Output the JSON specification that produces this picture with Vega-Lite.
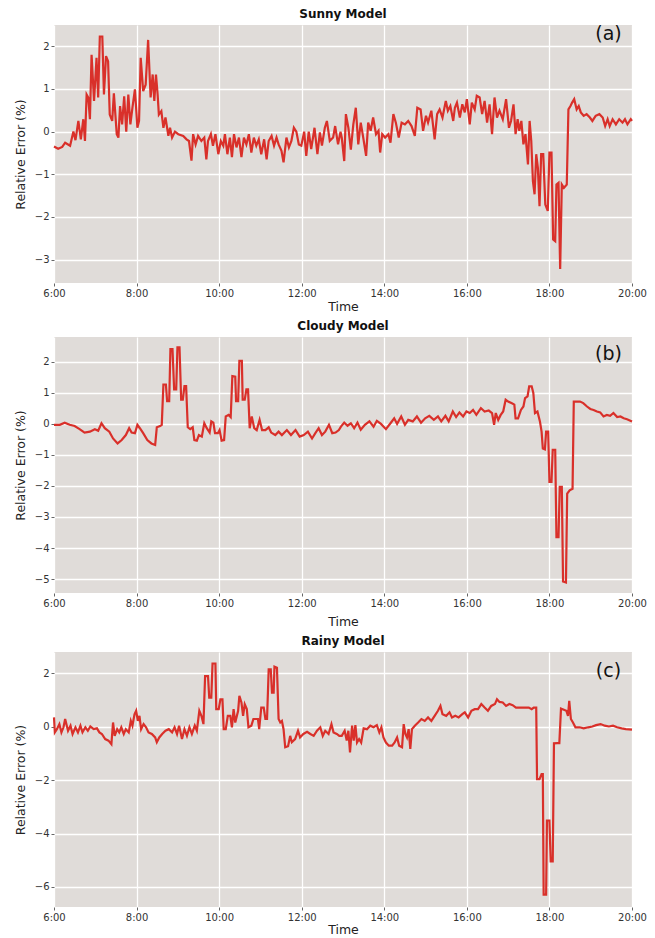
{
  "$schema": "https://vega.github.io/schema/vega-lite/v6.json",
  "padding": {"left": 14, "top": 7, "right": 5, "bottom": 0},
  "spacing": 7,
  "config": {
    "font": "DejaVu Sans",
    "view": {"stroke": null, "fill": "#e0dcd9"},
    "axis": {"domain": false, "gridColor": "#ffffff", "gridWidth": 1.3, "tickColor": "#666666", "tickSize": 3, "labelFontSize": 10, "labelColor": "#333333", "titleFontSize": 12.5, "titleFontWeight": "normal", "titleColor": "#222222", "labelPadding": 2, "labelOverlap": false, "labelFlush": false},
    "axisY": {"titlePadding": 7},
    "title": {"fontSize": 12, "fontWeight": "bold", "color": "#111111", "offset": 4},
    "line": {"color": "#d9302a", "strokeWidth": 2.2},
    "text": {"fontSize": 19, "color": "#111111"}
  },
  "datasets": {
    "a": [
      {"h":6.0,"v":-0.35},{"h":6.1,"v":-0.4},{"h":6.2,"v":-0.36},{"h":6.27,"v":-0.26},{"h":6.39,"v":-0.33},{"h":6.47,"v":0.0},{"h":6.52,"v":-0.2},{"h":6.59,"v":0.25},{"h":6.65,"v":-0.18},{"h":6.71,"v":0.29},{"h":6.75,"v":-0.22},{"h":6.79,"v":0.87},{"h":6.83,"v":0.8},{"h":6.87,"v":0.29},{"h":6.91,"v":1.8},{"h":6.97,"v":0.72},{"h":7.03,"v":1.73},{"h":7.07,"v":0.8},{"h":7.11,"v":2.23},{"h":7.17,"v":2.23},{"h":7.21,"v":0.87},{"h":7.26,"v":1.77},{"h":7.31,"v":1.65},{"h":7.35,"v":0.4},{"h":7.41,"v":0.25},{"h":7.45,"v":0.9},{"h":7.52,"v":-0.06},{"h":7.56,"v":-0.14},{"h":7.6,"v":0.6},{"h":7.65,"v":0.17},{"h":7.7,"v":0.83},{"h":7.75,"v":0.0},{"h":7.8,"v":0.87},{"h":7.85,"v":0.17},{"h":7.9,"v":0.56},{"h":7.96,"v":0.99},{"h":8.02,"v":0.09},{"h":8.06,"v":0.25},{"h":8.1,"v":1.73},{"h":8.16,"v":0.95},{"h":8.22,"v":1.1},{"h":8.28,"v":2.15},{"h":8.34,"v":0.8},{"h":8.39,"v":1.34},{"h":8.43,"v":0.72},{"h":8.47,"v":1.34},{"h":8.51,"v":0.87},{"h":8.54,"v":0.4},{"h":8.6,"v":0.48},{"h":8.65,"v":0.09},{"h":8.7,"v":0.33},{"h":8.77,"v":-0.1},{"h":8.81,"v":0.09},{"h":8.86,"v":-0.14},{"h":8.93,"v":0.0},{"h":9.01,"v":-0.06},{"h":9.13,"v":-0.1},{"h":9.21,"v":-0.18},{"h":9.27,"v":-0.22},{"h":9.33,"v":-0.68},{"h":9.37,"v":-0.06},{"h":9.43,"v":-0.3},{"h":9.49,"v":-0.1},{"h":9.57,"v":-0.22},{"h":9.64,"v":-0.14},{"h":9.69,"v":-0.65},{"h":9.73,"v":-0.22},{"h":9.8,"v":-0.06},{"h":9.85,"v":-0.33},{"h":9.91,"v":-0.06},{"h":9.98,"v":-0.53},{"h":10.04,"v":-0.22},{"h":10.1,"v":-0.33},{"h":10.14,"v":-0.06},{"h":10.2,"v":-0.53},{"h":10.26,"v":-0.14},{"h":10.31,"v":-0.6},{"h":10.36,"v":-0.06},{"h":10.42,"v":-0.37},{"h":10.48,"v":-0.14},{"h":10.54,"v":-0.6},{"h":10.6,"v":-0.14},{"h":10.66,"v":-0.3},{"h":10.72,"v":-0.06},{"h":10.78,"v":-0.49},{"h":10.84,"v":-0.14},{"h":10.9,"v":-0.33},{"h":10.96,"v":-0.18},{"h":11.02,"v":-0.53},{"h":11.09,"v":-0.18},{"h":11.15,"v":-0.65},{"h":11.2,"v":-0.22},{"h":11.27,"v":-0.1},{"h":11.33,"v":-0.33},{"h":11.39,"v":-0.14},{"h":11.44,"v":-0.3},{"h":11.51,"v":-0.45},{"h":11.56,"v":-0.72},{"h":11.63,"v":-0.14},{"h":11.69,"v":-0.37},{"h":11.75,"v":-0.22},{"h":11.81,"v":0.09},{"h":11.87,"v":0.0},{"h":11.93,"v":-0.3},{"h":11.99,"v":-0.33},{"h":12.06,"v":0.0},{"h":12.11,"v":-0.57},{"h":12.17,"v":0.0},{"h":12.23,"v":-0.41},{"h":12.31,"v":0.09},{"h":12.38,"v":-0.53},{"h":12.44,"v":-0.02},{"h":12.49,"v":-0.33},{"h":12.56,"v":0.09},{"h":12.61,"v":0.25},{"h":12.68,"v":-0.22},{"h":12.76,"v":-0.14},{"h":12.81,"v":0.13},{"h":12.88,"v":-0.3},{"h":12.94,"v":0.0},{"h":12.97,"v":-0.14},{"h":13.03,"v":-0.69},{"h":13.07,"v":0.41},{"h":13.13,"v":0.09},{"h":13.19,"v":-0.42},{"h":13.25,"v":0.17},{"h":13.31,"v":0.56},{"h":13.37,"v":-0.3},{"h":13.43,"v":0.21},{"h":13.49,"v":-0.14},{"h":13.56,"v":-0.57},{"h":13.61,"v":0.21},{"h":13.67,"v":0.02},{"h":13.73,"v":0.33},{"h":13.8,"v":-0.06},{"h":13.86,"v":0.02},{"h":13.9,"v":-0.49},{"h":13.95,"v":-0.06},{"h":14.02,"v":-0.14},{"h":14.1,"v":-0.06},{"h":14.15,"v":-0.26},{"h":14.22,"v":0.41},{"h":14.28,"v":0.21},{"h":14.35,"v":-0.14},{"h":14.42,"v":0.21},{"h":14.5,"v":0.17},{"h":14.58,"v":0.25},{"h":14.66,"v":0.13},{"h":14.74,"v":-0.1},{"h":14.8,"v":0.56},{"h":14.88,"v":0.52},{"h":14.94,"v":0.02},{"h":15.01,"v":0.37},{"h":15.06,"v":0.21},{"h":15.14,"v":0.49},{"h":15.22,"v":-0.18},{"h":15.28,"v":0.41},{"h":15.34,"v":0.52},{"h":15.41,"v":0.33},{"h":15.49,"v":0.72},{"h":15.54,"v":0.49},{"h":15.6,"v":0.6},{"h":15.67,"v":0.25},{"h":15.71,"v":0.56},{"h":15.76,"v":0.68},{"h":15.83,"v":0.33},{"h":15.89,"v":0.64},{"h":15.95,"v":0.45},{"h":16.0,"v":0.76},{"h":16.07,"v":0.17},{"h":16.12,"v":0.68},{"h":16.19,"v":0.52},{"h":16.24,"v":0.84},{"h":16.31,"v":0.8},{"h":16.37,"v":0.41},{"h":16.43,"v":0.72},{"h":16.49,"v":0.21},{"h":16.55,"v":0.64},{"h":16.61,"v":-0.06},{"h":16.67,"v":0.8},{"h":16.73,"v":0.33},{"h":16.79,"v":0.49},{"h":16.87,"v":0.29},{"h":16.95,"v":0.76},{"h":17.02,"v":0.09},{"h":17.07,"v":0.25},{"h":17.13,"v":0.64},{"h":17.18,"v":-0.06},{"h":17.23,"v":0.29},{"h":17.27,"v":0.02},{"h":17.32,"v":0.25},{"h":17.37,"v":-0.3},{"h":17.42,"v":-0.06},{"h":17.48,"v":-0.77},{"h":17.52,"v":0.25},{"h":17.56,"v":-0.22},{"h":17.6,"v":-1.16},{"h":17.64,"v":-1.47},{"h":17.68,"v":-0.53},{"h":17.72,"v":-0.85},{"h":17.76,"v":-1.75},{"h":17.8,"v":-0.53},{"h":17.85,"v":-0.53},{"h":17.9,"v":-1.71},{"h":17.96,"v":-1.86},{"h":18.0,"v":-0.49},{"h":18.05,"v":-0.49},{"h":18.09,"v":-2.53},{"h":18.14,"v":-2.57},{"h":18.17,"v":-1.24},{"h":18.22,"v":-1.2},{"h":18.26,"v":-3.22},{"h":18.3,"v":-1.24},{"h":18.35,"v":-1.32},{"h":18.42,"v":-1.24},{"h":18.46,"v":0.52},{"h":18.51,"v":0.6},{"h":18.55,"v":0.68},{"h":18.6,"v":0.76},{"h":18.66,"v":0.52},{"h":18.71,"v":0.6},{"h":18.76,"v":0.45},{"h":18.83,"v":0.37},{"h":18.9,"v":0.41},{"h":18.98,"v":0.33},{"h":19.04,"v":0.25},{"h":19.12,"v":0.37},{"h":19.21,"v":0.41},{"h":19.29,"v":0.33},{"h":19.35,"v":0.13},{"h":19.41,"v":0.29},{"h":19.46,"v":0.13},{"h":19.53,"v":0.29},{"h":19.61,"v":0.17},{"h":19.69,"v":0.29},{"h":19.77,"v":0.21},{"h":19.83,"v":0.29},{"h":19.89,"v":0.17},{"h":19.97,"v":0.29},{"h":20.0,"v":0.25}
    ],
    "b": [
      {"h":6.0,"v":-0.03},{"h":6.14,"v":-0.03},{"h":6.26,"v":0.04},{"h":6.38,"v":-0.03},{"h":6.5,"v":-0.07},{"h":6.62,"v":-0.17},{"h":6.74,"v":-0.28},{"h":6.87,"v":-0.25},{"h":6.99,"v":-0.17},{"h":7.07,"v":-0.22},{"h":7.15,"v":0.02},{"h":7.23,"v":-0.14},{"h":7.34,"v":-0.25},{"h":7.43,"v":-0.47},{"h":7.54,"v":-0.63},{"h":7.64,"v":-0.52},{"h":7.74,"v":-0.36},{"h":7.82,"v":-0.14},{"h":7.88,"v":-0.28},{"h":7.96,"v":-0.3},{"h":8.02,"v":-0.03},{"h":8.08,"v":-0.14},{"h":8.16,"v":-0.3},{"h":8.26,"v":-0.52},{"h":8.36,"v":-0.63},{"h":8.45,"v":-0.68},{"h":8.49,"v":-0.11},{"h":8.57,"v":-0.07},{"h":8.61,"v":-0.03},{"h":8.65,"v":1.27},{"h":8.71,"v":1.27},{"h":8.74,"v":0.73},{"h":8.79,"v":0.73},{"h":8.82,"v":2.41},{"h":8.87,"v":2.41},{"h":8.91,"v":1.11},{"h":8.96,"v":1.11},{"h":8.99,"v":2.47},{"h":9.04,"v":2.47},{"h":9.08,"v":0.78},{"h":9.12,"v":0.78},{"h":9.16,"v":1.22},{"h":9.2,"v":1.22},{"h":9.24,"v":-0.11},{"h":9.3,"v":-0.17},{"h":9.36,"v":-0.11},{"h":9.4,"v":-0.52},{"h":9.46,"v":-0.54},{"h":9.51,"v":-0.36},{"h":9.58,"v":-0.41},{"h":9.64,"v":0.02},{"h":9.7,"v":-0.14},{"h":9.77,"v":-0.28},{"h":9.81,"v":0.08},{"h":9.86,"v":0.04},{"h":9.9,"v":-0.3},{"h":9.97,"v":-0.3},{"h":10.01,"v":-0.2},{"h":10.06,"v":-0.54},{"h":10.12,"v":-0.52},{"h":10.16,"v":0.24},{"h":10.23,"v":0.29},{"h":10.28,"v":0.22},{"h":10.32,"v":1.54},{"h":10.39,"v":1.52},{"h":10.41,"v":0.73},{"h":10.46,"v":0.73},{"h":10.49,"v":2.03},{"h":10.55,"v":2.03},{"h":10.57,"v":0.78},{"h":10.62,"v":0.78},{"h":10.66,"v":1.11},{"h":10.7,"v":1.11},{"h":10.74,"v":-0.14},{"h":10.79,"v":0.24},{"h":10.85,"v":-0.14},{"h":10.91,"v":-0.2},{"h":10.98,"v":0.13},{"h":11.04,"v":-0.2},{"h":11.12,"v":-0.2},{"h":11.2,"v":-0.11},{"h":11.26,"v":-0.28},{"h":11.36,"v":-0.36},{"h":11.44,"v":-0.25},{"h":11.52,"v":-0.36},{"h":11.64,"v":-0.2},{"h":11.74,"v":-0.36},{"h":11.85,"v":-0.2},{"h":11.95,"v":-0.41},{"h":12.05,"v":-0.36},{"h":12.15,"v":-0.25},{"h":12.25,"v":-0.47},{"h":12.33,"v":-0.3},{"h":12.41,"v":-0.14},{"h":12.49,"v":-0.36},{"h":12.57,"v":-0.25},{"h":12.66,"v":-0.03},{"h":12.74,"v":-0.3},{"h":12.82,"v":-0.28},{"h":12.9,"v":-0.2},{"h":12.95,"v":-0.09},{"h":13.03,"v":0.04},{"h":13.11,"v":-0.06},{"h":13.19,"v":0.02},{"h":13.27,"v":-0.14},{"h":13.35,"v":0.04},{"h":13.43,"v":-0.19},{"h":13.53,"v":-0.03},{"h":13.64,"v":0.08},{"h":13.74,"v":-0.09},{"h":13.82,"v":0.1},{"h":13.92,"v":0.0},{"h":14.04,"v":-0.17},{"h":14.15,"v":0.02},{"h":14.24,"v":0.18},{"h":14.31,"v":0.0},{"h":14.41,"v":0.24},{"h":14.5,"v":-0.03},{"h":14.58,"v":0.13},{"h":14.69,"v":0.08},{"h":14.79,"v":0.24},{"h":14.89,"v":0.04},{"h":14.99,"v":0.18},{"h":15.09,"v":0.26},{"h":15.2,"v":0.13},{"h":15.3,"v":0.24},{"h":15.38,"v":0.08},{"h":15.48,"v":0.26},{"h":15.56,"v":0.08},{"h":15.66,"v":0.4},{"h":15.74,"v":0.22},{"h":15.82,"v":0.37},{"h":15.91,"v":0.24},{"h":15.99,"v":0.4},{"h":16.07,"v":0.35},{"h":16.15,"v":0.45},{"h":16.23,"v":0.29},{"h":16.34,"v":0.51},{"h":16.43,"v":0.4},{"h":16.53,"v":0.43},{"h":16.61,"v":0.35},{"h":16.66,"v":-0.03},{"h":16.7,"v":0.35},{"h":16.76,"v":0.13},{"h":16.82,"v":0.29},{"h":16.88,"v":0.4},{"h":16.94,"v":0.78},{"h":17.0,"v":0.72},{"h":17.08,"v":0.67},{"h":17.15,"v":0.62},{"h":17.18,"v":0.18},{"h":17.24,"v":0.18},{"h":17.31,"v":0.45},{"h":17.37,"v":0.56},{"h":17.41,"v":0.83},{"h":17.47,"v":0.89},{"h":17.51,"v":1.21},{"h":17.57,"v":1.21},{"h":17.61,"v":1.0},{"h":17.65,"v":0.35},{"h":17.71,"v":0.4},{"h":17.77,"v":0.08},{"h":17.81,"v":-0.25},{"h":17.84,"v":-0.79},{"h":17.89,"v":-0.82},{"h":17.92,"v":-0.25},{"h":17.97,"v":-0.25},{"h":18.0,"v":-1.87},{"h":18.05,"v":-1.87},{"h":18.08,"v":-0.84},{"h":18.14,"v":-0.84},{"h":18.17,"v":-3.65},{"h":18.22,"v":-3.65},{"h":18.25,"v":-2.03},{"h":18.3,"v":-2.03},{"h":18.33,"v":-5.08},{"h":18.4,"v":-5.11},{"h":18.43,"v":-2.25},{"h":18.49,"v":-2.14},{"h":18.56,"v":-2.09},{"h":18.59,"v":0.72},{"h":18.66,"v":0.72},{"h":18.74,"v":0.72},{"h":18.82,"v":0.67},{"h":18.91,"v":0.56},{"h":18.99,"v":0.48},{"h":19.07,"v":0.45},{"h":19.15,"v":0.4},{"h":19.23,"v":0.37},{"h":19.31,"v":0.24},{"h":19.39,"v":0.29},{"h":19.47,"v":0.26},{"h":19.55,"v":0.35},{"h":19.64,"v":0.22},{"h":19.72,"v":0.24},{"h":19.8,"v":0.18},{"h":19.88,"v":0.15},{"h":20.0,"v":0.08}
    ],
    "c": [
      {"h":6.0,"v":0.35},{"h":6.02,"v":-0.21},{"h":6.07,"v":-0.09},{"h":6.13,"v":0.1},{"h":6.18,"v":-0.21},{"h":6.23,"v":-0.02},{"h":6.27,"v":0.29},{"h":6.34,"v":-0.15},{"h":6.4,"v":0.04},{"h":6.45,"v":-0.27},{"h":6.52,"v":-0.02},{"h":6.58,"v":-0.21},{"h":6.64,"v":0.04},{"h":6.69,"v":-0.21},{"h":6.76,"v":-0.02},{"h":6.82,"v":-0.15},{"h":6.88,"v":0.01},{"h":6.96,"v":-0.09},{"h":7.04,"v":-0.06},{"h":7.1,"v":-0.21},{"h":7.16,"v":-0.27},{"h":7.24,"v":-0.46},{"h":7.32,"v":-0.52},{"h":7.39,"v":-0.65},{"h":7.43,"v":0.16},{"h":7.47,"v":-0.34},{"h":7.53,"v":-0.09},{"h":7.58,"v":-0.21},{"h":7.63,"v":-0.02},{"h":7.69,"v":-0.27},{"h":7.74,"v":-0.09},{"h":7.81,"v":-0.21},{"h":7.86,"v":0.22},{"h":7.9,"v":0.04},{"h":7.95,"v":0.47},{"h":7.99,"v":0.6},{"h":8.03,"v":0.22},{"h":8.07,"v":0.41},{"h":8.11,"v":-0.09},{"h":8.17,"v":0.1},{"h":8.23,"v":-0.02},{"h":8.29,"v":-0.21},{"h":8.37,"v":-0.27},{"h":8.45,"v":-0.4},{"h":8.49,"v":-0.58},{"h":8.55,"v":-0.4},{"h":8.62,"v":-0.27},{"h":8.7,"v":-0.15},{"h":8.78,"v":-0.09},{"h":8.86,"v":-0.21},{"h":8.92,"v":-0.02},{"h":8.98,"v":-0.27},{"h":9.03,"v":0.04},{"h":9.1,"v":-0.46},{"h":9.16,"v":-0.09},{"h":9.22,"v":-0.34},{"h":9.28,"v":-0.02},{"h":9.34,"v":-0.27},{"h":9.41,"v":0.04},{"h":9.46,"v":-0.15},{"h":9.52,"v":0.6},{"h":9.57,"v":0.41},{"h":9.62,"v":0.1},{"h":9.66,"v":1.9},{"h":9.73,"v":1.9},{"h":9.76,"v":1.09},{"h":9.81,"v":1.09},{"h":9.84,"v":2.37},{"h":9.91,"v":2.37},{"h":9.93,"v":0.66},{"h":9.99,"v":0.66},{"h":10.03,"v":1.03},{"h":10.08,"v":1.03},{"h":10.11,"v":-0.09},{"h":10.16,"v":-0.09},{"h":10.21,"v":0.41},{"h":10.27,"v":0.41},{"h":10.31,"v":-0.02},{"h":10.35,"v":0.66},{"h":10.39,"v":0.16},{"h":10.46,"v":0.6},{"h":10.49,"v":1.16},{"h":10.54,"v":0.91},{"h":10.58,"v":0.41},{"h":10.62,"v":0.84},{"h":10.67,"v":0.66},{"h":10.71,"v":-0.02},{"h":10.78,"v":0.04},{"h":10.83,"v":0.29},{"h":10.89,"v":0.29},{"h":10.94,"v":0.29},{"h":10.97,"v":-0.09},{"h":11.02,"v":0.72},{"h":11.08,"v":0.72},{"h":11.12,"v":0.29},{"h":11.16,"v":0.29},{"h":11.2,"v":2.15},{"h":11.25,"v":2.15},{"h":11.28,"v":1.28},{"h":11.32,"v":1.28},{"h":11.34,"v":2.25},{"h":11.4,"v":2.21},{"h":11.44,"v":0.29},{"h":11.48,"v":0.16},{"h":11.52,"v":0.22},{"h":11.56,"v":-0.09},{"h":11.6,"v":-0.77},{"h":11.67,"v":-0.73},{"h":11.72,"v":-0.34},{"h":11.76,"v":-0.58},{"h":11.84,"v":-0.46},{"h":11.91,"v":-0.15},{"h":11.96,"v":-0.4},{"h":12.04,"v":-0.27},{"h":12.13,"v":-0.19},{"h":12.21,"v":-0.27},{"h":12.29,"v":-0.34},{"h":12.37,"v":-0.15},{"h":12.45,"v":-0.02},{"h":12.51,"v":-0.34},{"h":12.57,"v":-0.15},{"h":12.65,"v":-0.27},{"h":12.72,"v":0.1},{"h":12.77,"v":-0.21},{"h":12.85,"v":-0.27},{"h":12.91,"v":-0.34},{"h":12.97,"v":-0.34},{"h":13.04,"v":-0.15},{"h":13.09,"v":-0.52},{"h":13.13,"v":-0.15},{"h":13.17,"v":-0.96},{"h":13.22,"v":0.04},{"h":13.26,"v":-0.52},{"h":13.3,"v":0.06},{"h":13.34,"v":-0.59},{"h":13.39,"v":-0.46},{"h":13.44,"v":-0.59},{"h":13.5,"v":-0.06},{"h":13.58,"v":-0.09},{"h":13.66,"v":0.04},{"h":13.74,"v":-0.02},{"h":13.82,"v":0.06},{"h":13.88,"v":-0.21},{"h":13.93,"v":-0.02},{"h":13.98,"v":-0.4},{"h":14.04,"v":-0.59},{"h":14.11,"v":-0.71},{"h":14.19,"v":-0.71},{"h":14.25,"v":-0.59},{"h":14.31,"v":-0.4},{"h":14.36,"v":-0.71},{"h":14.43,"v":-0.77},{"h":14.47,"v":0.1},{"h":14.51,"v":-0.27},{"h":14.55,"v":-0.4},{"h":14.59,"v":-0.09},{"h":14.63,"v":-0.83},{"h":14.67,"v":-0.09},{"h":14.74,"v":0.04},{"h":14.82,"v":0.16},{"h":14.9,"v":0.29},{"h":14.98,"v":0.22},{"h":15.06,"v":0.35},{"h":15.14,"v":0.22},{"h":15.22,"v":0.41},{"h":15.3,"v":0.6},{"h":15.36,"v":0.78},{"h":15.41,"v":0.47},{"h":15.5,"v":0.41},{"h":15.58,"v":0.54},{"h":15.64,"v":0.35},{"h":15.72,"v":0.41},{"h":15.8,"v":0.35},{"h":15.89,"v":0.47},{"h":15.95,"v":0.54},{"h":16.03,"v":0.35},{"h":16.11,"v":0.6},{"h":16.19,"v":0.66},{"h":16.27,"v":0.66},{"h":16.35,"v":0.85},{"h":16.43,"v":0.72},{"h":16.51,"v":0.6},{"h":16.59,"v":0.78},{"h":16.68,"v":0.85},{"h":16.73,"v":1.03},{"h":16.79,"v":0.93},{"h":16.87,"v":0.91},{"h":16.95,"v":0.78},{"h":17.03,"v":0.85},{"h":17.11,"v":0.81},{"h":17.19,"v":0.72},{"h":17.3,"v":0.72},{"h":17.4,"v":0.72},{"h":17.5,"v":0.72},{"h":17.57,"v":0.66},{"h":17.62,"v":0.72},{"h":17.68,"v":0.72},{"h":17.7,"v":-1.96},{"h":17.76,"v":-1.96},{"h":17.81,"v":-1.77},{"h":17.84,"v":-1.77},{"h":17.86,"v":-6.29},{"h":17.92,"v":-6.29},{"h":17.94,"v":-3.51},{"h":18.0,"v":-3.51},{"h":18.03,"v":-5.04},{"h":18.08,"v":-5.04},{"h":18.11,"v":-0.62},{"h":18.19,"v":-0.61},{"h":18.24,"v":-0.61},{"h":18.28,"v":0.68},{"h":18.35,"v":0.64},{"h":18.41,"v":0.6},{"h":18.45,"v":0.41},{"h":18.48,"v":0.97},{"h":18.52,"v":0.29},{"h":18.57,"v":0.16},{"h":18.63,"v":-0.02},{"h":18.73,"v":-0.02},{"h":18.83,"v":-0.06},{"h":18.94,"v":-0.02},{"h":19.04,"v":0.01},{"h":19.13,"v":0.06},{"h":19.24,"v":0.1},{"h":19.34,"v":0.04},{"h":19.44,"v":0.01},{"h":19.54,"v":0.04},{"h":19.64,"v":-0.02},{"h":19.75,"v":-0.06},{"h":19.85,"v":-0.09},{"h":20.0,"v":-0.11}
    ],
    "labels": [
      {"panel":"a","h":19.43,"v":2.3,"t":"(a)"},
      {"panel":"b","h":19.43,"v":2.25,"t":"(b)"},
      {"panel":"c","h":19.43,"v":2.08,"t":"(c)"}
    ]
  },
  "vconcat": [
    {
      "title": "Sunny Model",
      "width": 578,
      "height": 258,
      "layer": [
        {
          "data": {"name": "a"},
          "mark": {"type": "line", "strokeJoin": "miter"},
          "encoding": {
            "x": {"field": "h", "type": "quantitative", "scale": {"domain": [6, 20], "nice": false, "zero": false}, "axis": {"title": "Time", "values": [6, 8, 10, 12, 14, 16, 18, 20], "tickCount": 20, "labelExpr": "datum.value + ':00'", "titlePadding": 2}},
            "y": {"field": "v", "type": "quantitative", "scale": {"domain": [-3.55, 2.5], "nice": false, "zero": false}, "axis": {"title": "Relative Error (%)", "values": [-3, -2, -1, 0, 1, 2], "tickCount": 20, "labelExpr": "replace(format(datum.value, 'd'), '-', '\u2212')"}}
          }
        },
        {
          "data": {"name": "labels"},
          "transform": [{"filter": "datum.panel === 'a'"}],
          "mark": {"type": "text", "align": "center", "baseline": "middle"},
          "encoding": {
            "x": {"field": "h", "type": "quantitative"},
            "y": {"field": "v", "type": "quantitative"},
            "text": {"field": "t"}
          }
        }
      ]
    },
    {
      "title": "Cloudy Model",
      "width": 578,
      "height": 256,
      "layer": [
        {
          "data": {"name": "b"},
          "mark": {"type": "line", "strokeJoin": "miter"},
          "encoding": {
            "x": {"field": "h", "type": "quantitative", "scale": {"domain": [6, 20], "nice": false, "zero": false}, "axis": {"title": "Time", "values": [6, 8, 10, 12, 14, 16, 18, 20], "tickCount": 20, "labelExpr": "datum.value + ':00'", "titlePadding": 7}},
            "y": {"field": "v", "type": "quantitative", "scale": {"domain": [-5.45, 2.8], "nice": false, "zero": false}, "axis": {"title": "Relative Error (%)", "values": [-5, -4, -3, -2, -1, 0, 1, 2], "tickCount": 20, "labelExpr": "replace(format(datum.value, 'd'), '-', '\u2212')"}}
          }
        },
        {
          "data": {"name": "labels"},
          "transform": [{"filter": "datum.panel === 'b'"}],
          "mark": {"type": "text", "align": "center", "baseline": "middle"},
          "encoding": {
            "x": {"field": "h", "type": "quantitative"},
            "y": {"field": "v", "type": "quantitative"},
            "text": {"field": "t"}
          }
        }
      ]
    },
    {
      "title": "Rainy Model",
      "width": 578,
      "height": 255,
      "layer": [
        {
          "data": {"name": "c"},
          "mark": {"type": "line", "strokeJoin": "miter"},
          "encoding": {
            "x": {"field": "h", "type": "quantitative", "scale": {"domain": [6, 20], "nice": false, "zero": false}, "axis": {"title": "Time", "values": [6, 8, 10, 12, 14, 16, 18, 20], "tickCount": 20, "labelExpr": "datum.value + ':00'", "titlePadding": 1}},
            "y": {"field": "v", "type": "quantitative", "scale": {"domain": [-6.75, 2.8], "nice": false, "zero": false}, "axis": {"title": "Relative Error (%)", "values": [-6, -4, -2, 0, 2], "tickCount": 20, "labelExpr": "replace(format(datum.value, 'd'), '-', '\u2212')"}}
          }
        },
        {
          "data": {"name": "labels"},
          "transform": [{"filter": "datum.panel === 'c'"}],
          "mark": {"type": "text", "align": "center", "baseline": "middle"},
          "encoding": {
            "x": {"field": "h", "type": "quantitative"},
            "y": {"field": "v", "type": "quantitative"},
            "text": {"field": "t"}
          }
        }
      ]
    }
  ]
}
